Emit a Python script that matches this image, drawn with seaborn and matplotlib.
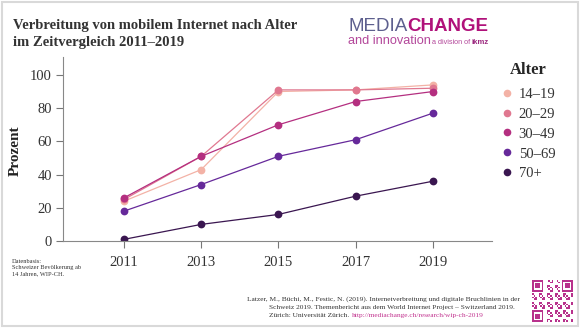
import matplotlib
matplotlib.use("Agg")
import matplotlib.pyplot as plt
from matplotlib.lines import Line2D
from matplotlib.colors import ListedColormap
import numpy as np
import pandas as pd
import seaborn as sns

# Survey years and share of mobile internet users (%) per age group
years = [2011, 2013, 2015, 2017, 2019]
age_groups = ["14–19", "20–29", "30–49", "50–69", "70+"]
share_14_19 = [24, 43, 90, 91, 94]
share_20_29 = [25, 51, 91, 91, 92]
share_30_49 = [26, 51, 70, 84, 90]
share_50_69 = [18, 34, 51, 61, 77]
share_70plus = [1, 10, 16, 27, 36]
y_ticks = [0, 20, 40, 60, 80, 100]

colors = ["#f3b2a6", "#e07890", "#b42f80", "#66299a", "#3a1650"]

rows = []
for grp, vals in zip(age_groups, [share_14_19, share_20_29, share_30_49,
                                  share_50_69, share_70plus]):
    for yr, v in zip(years, vals):
        rows.append({"Jahr": yr, "Prozent": v, "Alter": grp})
df = pd.DataFrame(rows)

sns.set_theme(style="white")
plt.rcParams["font.family"] = ["Liberation Serif", "DejaVu Serif"]

W, H = 580, 328
fig = plt.figure(figsize=(W / 100, H / 100), dpi=100)
fig.patch.set_facecolor("white")


def px(x, y):
    return x / W, 1 - y / H


ax = fig.add_axes([63 / W, 1 - 241 / H, (492 - 63) / W, (241 - 57) / H])
sns.lineplot(data=df, x="Jahr", y="Prozent", hue="Alter", hue_order=age_groups,
             palette=colors, marker="o", markersize=5.6, markeredgewidth=0,
             linewidth=0.9, ax=ax, legend=False)

ax.set_xlim(2009.42, 2020.53)
ax.set_ylim(0, 110.8)
ax.set_xticks(years)
ax.set_yticks(y_ticks)
ax.set_xticklabels([str(y) for y in years], fontsize=10.5, color="#333333")
ax.set_yticklabels([str(t) for t in y_ticks], fontsize=10.5, color="#333333")
ax.tick_params(axis="both", which="both", length=5, width=0.8, color="#777777",
               direction="out", bottom=True, left=True, pad=3)
ax.tick_params(axis="x", pad=6)
for side in ["top", "right"]:
    ax.spines[side].set_visible(False)
for side in ["left", "bottom"]:
    ax.spines[side].set_color("#888888")
    ax.spines[side].set_linewidth(0.8)
ax.set_xlabel("")
ax.set_ylabel("Prozent", fontsize=11, fontweight="bold", color="#222222")
ax.yaxis.set_label_coords(-0.096, 0.49)
ax.set_facecolor("white")

# Legend with markers only
handles = [Line2D([], [], linestyle="none", marker="o", markersize=5.5,
                  markerfacecolor=c, markeredgewidth=0) for c in colors]
leg = fig.legend(handles, age_groups, loc="upper left",
                 bbox_to_anchor=px(495, 56), frameon=False,
                 title="Alter", fontsize=10.5, handletextpad=0.42,
                 labelspacing=0.46, handlelength=0.8, borderaxespad=0)
leg.get_title().set_fontweight("bold")
leg.get_title().set_fontsize(12)
for t in leg.get_texts():
    t.set_color("#333333")
# a touch more room between the legend title and the first entry
leg._legend_box.sep = 7

# Title
fig.text(*px(13, 28.5), "Verbreitung von mobilem Internet nach Alter",
         fontsize=10.5, fontweight="bold", color="#333333", va="baseline")
fig.text(*px(13, 46), "im Zeitvergleich 2011–2019",
         fontsize=10.5, fontweight="bold", color="#333333", va="baseline")

# Logo
sans = ["Liberation Sans", "DejaVu Sans"]
media = fig.text(*px(348, 31), "MEDIA", fontsize=13.5, family=sans,
                 color="#5d5f8e", va="baseline")
fig.canvas.draw()
mb = media.get_window_extent()
fig.text((mb.x1 + 0.5) / W, 1 - 31 / H, "CHANGE", fontsize=13.5, family=sans,
         fontweight="bold", color="#b0117a", va="baseline")
fig.text(*px(348, 44), "and innovation", fontsize=9.2, family=sans,
         color="#b3479a", va="baseline")
fig.text(*px(432, 43.5), "a division of", fontsize=5.2, family=sans,
         color="#b3479a", va="baseline")
fig.text(*px(471, 43.5), "ikmz", fontsize=5.6, family=sans, fontweight="bold",
         color="#9c2a80", va="baseline")

# Data source note
note = "Datenbasis:\nSchweizer Bevölkerung ab\n14 Jahren, WIP-CH."
fig.text(*px(12, 259), note, fontsize=4.6, color="#333333", va="top",
         linespacing=1.25)

# Citation
cite_fs = 5.3
fig.text(*px(247, 301), "Latzer, M., Büchi, M., Festic, N. (2019). "
         "Internetverbreitung und digitale Bruchlinien in der",
         fontsize=cite_fs, color="#333333", va="baseline")
fig.text(*px(269, 309), "Schweiz 2019. Themenbericht aus dem World "
         "Internet Project – Switzerland 2019.",
         fontsize=cite_fs, color="#333333", va="baseline")
c3 = fig.text(*px(269, 317), "Zürich: Universität Zürich. ",
              fontsize=cite_fs, color="#333333", va="baseline")
fig.canvas.draw()
bb = c3.get_window_extent()
fig.text((bb.x1 + 1) / W, 1 - 317 / H, "http://mediachange.ch/research/wip-ch-2019",
         fontsize=cite_fs, color="#c2338f", va="baseline")

# QR-style code mark
n = 25
qr = np.zeros((n, n))
ii, jj = np.meshgrid(np.arange(n), np.arange(n), indexing="ij")
qr[((ii * 7 + jj * 3 + ii * jj) % 5) < 2] = 1
for (r, c) in [(0, 0), (0, n - 7), (n - 7, 0)]:
    r0, c0 = max(r - 1, 0), max(c - 1, 0)
    qr[r0:r + 8, c0:c + 8] = 0
    qr[r:r + 7, c:c + 7] = 1
    qr[r + 1:r + 6, c + 1:c + 6] = 0
    qr[r + 2:r + 5, c + 2:c + 5] = 1
qax = fig.add_axes([532 / W, 1 - 322 / H, 41 / W, 42 / H])
qax.imshow(qr, cmap=ListedColormap(["white", "#b8318c"]), interpolation="nearest",
           aspect="auto")
qax.axis("off")

# Light frame around the whole graphic
fig.patches.append(plt.Rectangle((0.004, 0.006), 0.992, 0.988,
                                 transform=fig.transFigure, fill=False,
                                 edgecolor="#d9d9d9", linewidth=1.5))

fig.savefig("out.png", dpi=100, facecolor="white")
